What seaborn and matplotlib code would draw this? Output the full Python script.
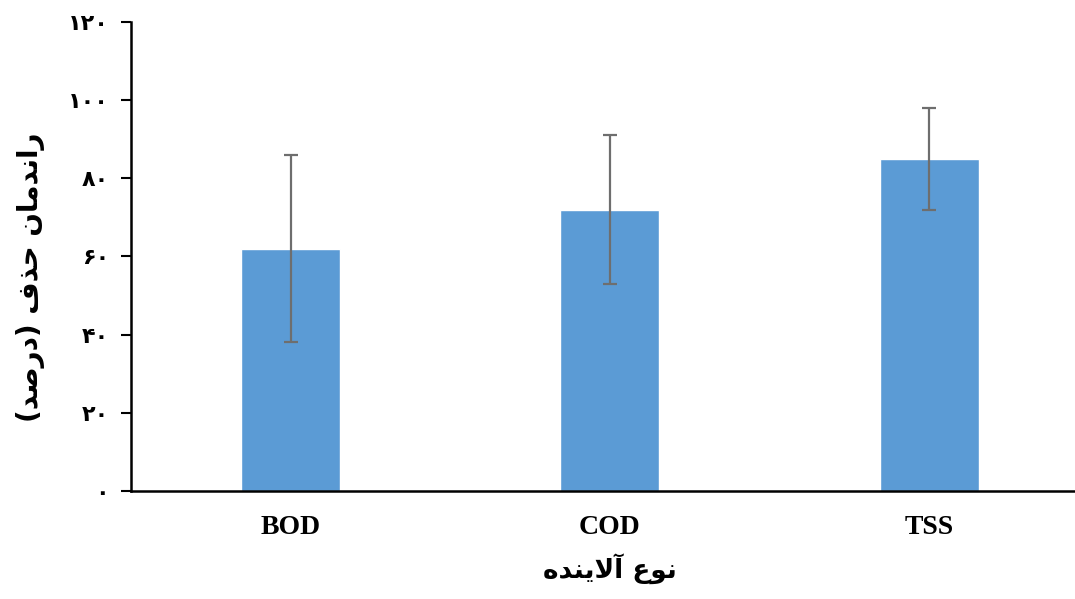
import matplotlib
matplotlib.use("Agg")
import matplotlib.pyplot as plt
import seaborn as sns
import pandas as pd

# pollutant types and removal efficiency (%) with spread
pollutants = ["BOD", "COD", "TSS"]
efficiency = [62, 72, 85]
spread = [24, 19, 13]
y_ticks = [0, 20, 40, 60, 80, 100, 120]

# Persian digits for the y tick labels
fa_digits = str.maketrans("0123456789", "\u06f0\u06f1\u06f2\u06f3\u06f4\u06f5\u06f6\u06f7\u06f8\u06f9")
y_tick_labels = [str(v).translate(fa_digits) for v in y_ticks]

# Persian labels, written in shaped (presentation form) glyphs in visual order
ylabel = ("(\ufeaa\ufebb\ufead\ufea9)" + " " + "\ufed1\ufeac\ufea3" + " "
          + "\ufee5\ufe8e\ufee3\ufeaa\ufee7\ufe8d\ufead")   # راندمان حذف (درصد)
xlabel = "\ufee9\ufeaa\ufee8\ufef3\ufefb\ufe81" + " " + "\ufec9\ufeee\ufee7"  # نوع آلاینده

df = pd.DataFrame({"pollutant": pollutants, "efficiency": efficiency, "spread": spread})

sns.set_style("white")
plt.rcParams["font.family"] = ["Liberation Serif", "DejaVu Sans"]
plt.rcParams["text.color"] = "black"
plt.rcParams["xtick.color"] = "black"
plt.rcParams["ytick.color"] = "black"
plt.rcParams["axes.labelcolor"] = "black"

fig = plt.figure(figsize=(10.75, 5.99), dpi=100)
ax = fig.add_axes([0.1219, 0.1803, 0.891, 0.783])

sns.barplot(data=df, x="pollutant", y="efficiency", color="#5B9BD5", width=0.31,
            saturation=1, errorbar=None, ax=ax)
ax.errorbar(x=range(len(df)), y=df["efficiency"], yerr=df["spread"], fmt="none",
            ecolor="#6E6E6E", elinewidth=1.6, capsize=5, capthick=1.6)

ax.set_xlim(-0.5, 2.5)
ax.set_ylim(0, 120)
ax.set_yticks(y_ticks)
ax.set_yticklabels(y_tick_labels, family=["DejaVu Sans"], fontweight="bold", fontsize=16)
for lab in ax.get_xticklabels():
    lab.set_fontweight("bold")
    lab.set_fontsize(20)

ax.tick_params(axis="y", direction="out", length=7, width=1.5, pad=9, left=True)
ax.tick_params(axis="x", length=0, pad=17)

for side in ["top", "right"]:
    ax.spines[side].set_visible(False)
for side in ["left", "bottom"]:
    ax.spines[side].set_color("black")
    ax.spines[side].set_linewidth(1.8)

ax.set_xlabel(xlabel, family=["DejaVu Sans"], fontweight="bold", fontsize=19, labelpad=10)
ax.set_ylabel(ylabel, family=["DejaVu Sans"], fontweight="bold", fontsize=20)
ax.yaxis.set_label_coords(-0.09, 0.455)

fig.savefig("out.png", dpi=100)
